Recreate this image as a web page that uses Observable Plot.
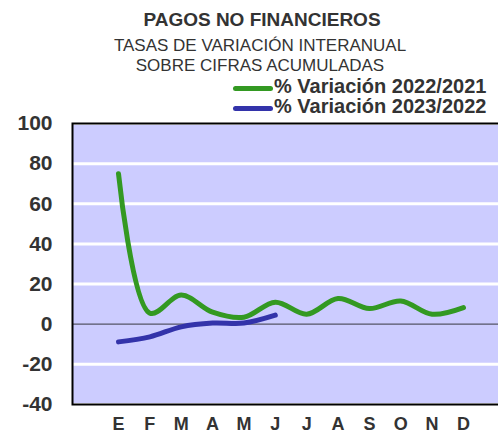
<!DOCTYPE html>
<html>
<head>
<meta charset="utf-8">
<script src="https://cdn.jsdelivr.net/npm/d3@7"></script>
<script src="https://cdn.jsdelivr.net/npm/@observablehq/plot@0.6"></script>
<style>
  html, body { margin: 0; padding: 0; width: 498px; height: 436px; overflow: hidden; background: #fff; font-family: "Liberation Sans", Arial, sans-serif; }
  #wrap { position: relative; width: 498px; height: 436px; overflow: hidden; }
  .t { position: absolute; white-space: nowrap; color: #333; }
  #title { left: 0; width: 524px; text-align: center; top: 9px; font-size: 19px; font-weight: bold; }
  #sub1 { left: 0; width: 520px; text-align: center; top: 36px; font-size: 17px; }
  #sub2 { left: 0; width: 520px; text-align: center; top: 56px; font-size: 17px; }
  .leg { position: absolute; left: 233px; height: 20px; }
  .leg .sw { position: absolute; left: 0; top: 8px; width: 40px; height: 5px; border-radius: 3px; }
  .leg .lab { position: absolute; left: 41px; top: -3px; font-size: 20px; font-weight: bold; color: #333; white-space: nowrap; }
  #chart { position: absolute; left: 0; top: 105px; width: 512px; }
  #chart svg { max-width: none !important; }
</style>
</head>
<body>
<div id="wrap">
  <div class="t" id="title">PAGOS NO FINANCIEROS</div>
  <div class="t" id="sub1">TASAS DE VARIACIÓN INTERANUAL</div>
  <div class="t" id="sub2">SOBRE CIFRAS ACUMULADAS</div>
  <div id="legend"></div>
  <div id="chart"></div>
</div>
<script>
const months = ["E", "F", "M", "A", "M", "J", "J", "A", "S", "O", "N", "D"];
const series = ["% Variación 2022/2021", "% Variación 2023/2022"];
const colors = ["#339922", "#3333aa"];
const values2022 = [75, 5.5, 14.5, 6, 3.5, 11, 5, 12.8, 7.8, 11.6, 5, 8.3];
const values2023 = [-8.8, -6.3, -1.3, 0.6, 0.6, 4.5];
const yTicks = [-40, -20, 0, 20, 40, 60, 80, 100];

const data = [];
values2022.forEach((v, i) => data.push({m: i, v, s: series[0]}));
values2023.forEach((v, i) => data.push({m: i, v, s: series[1]}));

// legend
const legend = document.getElementById("legend");
series.forEach((s, i) => {
  const d = document.createElement("div");
  d.className = "leg";
  d.style.top = (78 + i * 20) + "px";
  d.innerHTML = `<div class="sw" style="background:${colors[i]}"></div><div class="lab">${s}</div>`;
  legend.appendChild(d);
});

const chart = Plot.plot({
  width: 512,
  height: 331,
  marginLeft: 72,
  marginRight: 4,
  marginTop: 18,
  marginBottom: 32,
  style: {fontFamily: "Liberation Sans, Arial, sans-serif", background: "transparent", overflow: "visible", maxWidth: "none"},
  x: {type: "linear", domain: [-1.467, 12.436], axis: null},
  y: {domain: [-40, 100], axis: null},
  color: {domain: series, range: colors},
  marks: [
    Plot.frame({fill: "#ccccff"}),
    Plot.ruleY(yTicks.filter(d => d !== 0), {stroke: "#fff", strokeWidth: 3}),
    Plot.ruleY([0], {stroke: "#555566", strokeWidth: 1.2}),
    Plot.frame({stroke: "#000", strokeWidth: 2}),
    Plot.line(data, {x: "m", y: "v", z: "s", stroke: "s", strokeWidth: 5, curve: "catmull-rom", strokeLinecap: "round", strokeLinejoin: "round"}),
    Plot.axisY(yTicks, {label: null, tickSize: 0, tickPadding: 20, fontSize: 21, fontWeight: "bold", fill: "#333", tickFormat: d => String(d)}),
    Plot.axisX(d3.range(12), {label: null, tickSize: 0, tickPadding: 13, fontSize: 18, fontWeight: "bold", fill: "#333", tickFormat: i => months[i]})
  ]
});
document.getElementById("chart").appendChild(chart);
</script>
</body>
</html>
